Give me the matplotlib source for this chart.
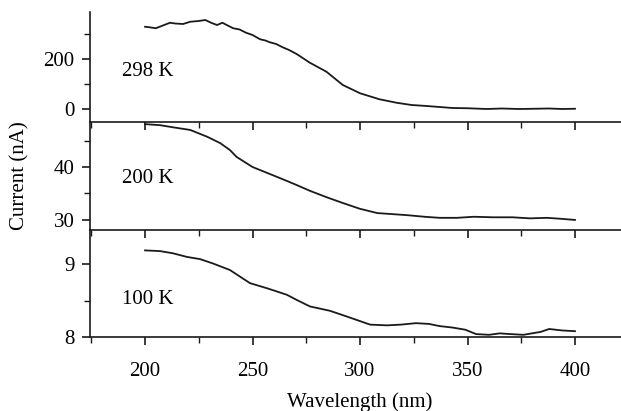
import matplotlib
matplotlib.use("Agg")
import matplotlib.pyplot as plt
from matplotlib.ticker import MultipleLocator

plt.rcParams['font.family'] = ['Liberation Serif', 'DejaVu Serif']
plt.rcParams['font.size'] = 15

# 298 K
wl_298 = [200, 202, 205, 208, 211.6, 214, 217.7, 221, 225, 228, 231, 233.5, 236, 238,
          241, 244, 247, 250, 253.5, 256, 258, 261, 264, 267, 270.5, 276.7, 284.4,
          292, 300, 309, 317, 324, 331, 337, 343, 350, 359, 366, 374, 381, 388, 394, 400]
cur_298 = [329, 327, 323, 333, 345, 342, 340, 349, 352, 356, 344, 336, 345, 336,
           323, 318, 305, 296, 279, 274, 267, 260, 247, 236, 220, 185, 149,
           96, 63, 39, 25, 16, 12, 8, 4, 3, 0, 2, 0, 1, 2, 0, 1]

# 200 K
wl_200 = [200, 207, 213, 221, 229, 235, 239.5, 242.6, 250, 256.7, 264, 270.5, 276.7,
          284.4, 292, 300, 308, 315, 322, 330, 337, 345, 353, 362, 371, 379, 387, 394, 400]
cur_200 = [48.1, 47.9, 47.5, 47.0, 45.7, 44.5, 43.2, 41.9, 40.0, 38.9, 37.7, 36.6, 35.5,
           34.3, 33.2, 32.1, 31.3, 31.1, 30.9, 30.6, 30.4, 30.4, 30.6, 30.5, 30.5, 30.3,
           30.4, 30.2, 30.0]

# 100 K
wl_100 = [200, 207, 213, 219.5, 225.6, 231.6, 239.5, 248.8, 256.7, 266, 270.5, 276.7,
          286, 294, 304.7, 312.6, 319, 326, 332, 337, 343, 349, 354, 360, 365, 370,
          376, 380, 384, 388, 394, 400]
cur_100 = [9.19, 9.18, 9.15, 9.10, 9.07, 9.01, 8.92, 8.74, 8.67, 8.58, 8.51, 8.42,
           8.36, 8.28, 8.17, 8.16, 8.17, 8.19, 8.18, 8.15, 8.13, 8.10, 8.04, 8.03, 8.05, 8.04,
           8.03, 8.05, 8.07, 8.11, 8.09, 8.08]

labels = ['298 K', '200 K', '100 K']

fig = plt.figure(figsize=(6.21, 4.11), dpi=100)
H = 411.0
ax1 = fig.add_axes([90/621, (H-122)/H, 531/621, 110/H])
ax2 = fig.add_axes([90/621, (H-230)/H, 531/621, 108/H])
ax3 = fig.add_axes([90/621, (H-337)/H, 531/621, 107/H])

ax1.plot(wl_298, cur_298, color='#1a1a1a', lw=1.3)
ax2.plot(wl_200, cur_200, color='#1a1a1a', lw=1.3)
ax3.plot(wl_100, cur_100, color='#1a1a1a', lw=1.3)

ax1.set_ylim(-52, 388)
ax2.set_ylim(28.1, 48.5)
ax3.set_ylim(8.0, 9.47)
ax1.yaxis.set_major_locator(MultipleLocator(200))
ax1.yaxis.set_minor_locator(MultipleLocator(100))
ax2.yaxis.set_major_locator(MultipleLocator(10))
ax2.yaxis.set_minor_locator(MultipleLocator(5))
ax3.yaxis.set_major_locator(MultipleLocator(1))
ax3.yaxis.set_minor_locator(MultipleLocator(0.5))

ax1.text(189.5, 148, labels[0], va='center')
ax2.text(189.5, 37.9, labels[1], va='center')
ax3.text(189.5, 8.51, labels[2], va='center')

for ax in (ax1, ax2, ax3):
    ax.set_xlim(174.4, 421.4)
    ax.xaxis.set_major_locator(MultipleLocator(50))
    ax.xaxis.set_minor_locator(MultipleLocator(25))
    ax.spines['top'].set_visible(False)
    ax.spines['right'].set_visible(False)
    for s in ('left', 'bottom'):
        ax.spines[s].set_linewidth(1.2)
        ax.spines[s].set_color('#1a1a1a')
    ax.tick_params(which='major', direction='out', length=6, width=1.2, color='#1a1a1a')
    ax.tick_params(which='minor', direction='out', length=4, width=1.0, color='#1a1a1a')
    ax.tick_params(axis='y', which='major', pad=5)
    ax.patch.set_alpha(0)

ax1.tick_params(axis='x', labelbottom=False)
ax2.tick_params(axis='x', labelbottom=False)
ax3.tick_params(axis='x', which='major', pad=12)

fig.text(360/621, 1 - 402/H, 'Wavelength (nm)', ha='center', va='center')
fig.text(20/621, 1 - 176/H, 'Current (nA)', ha='center', va='center', rotation=90)

fig.savefig('out.png', dpi=100)
